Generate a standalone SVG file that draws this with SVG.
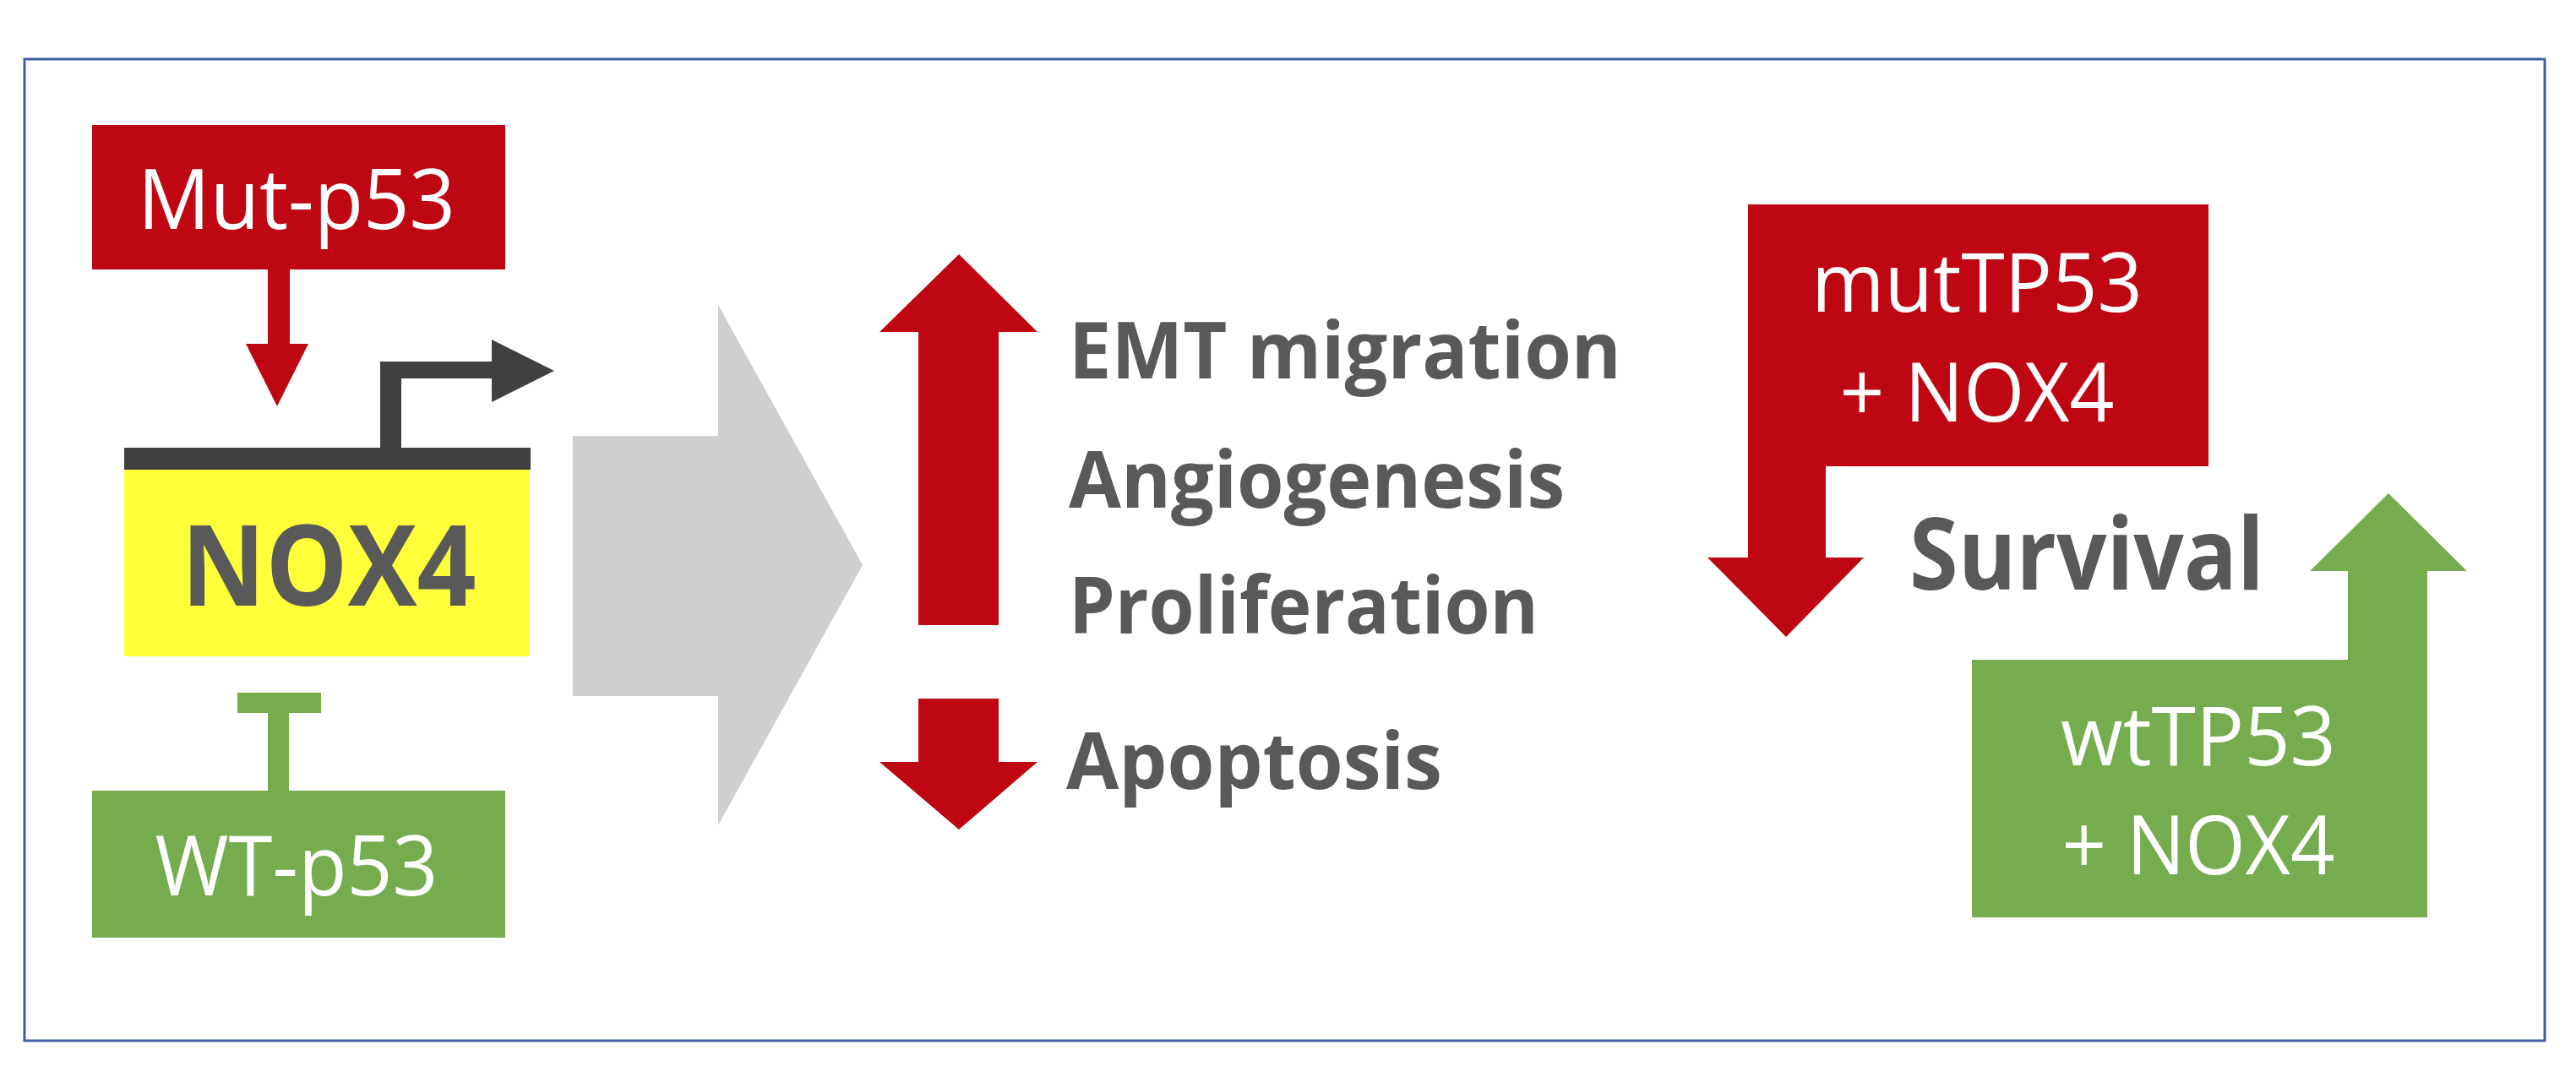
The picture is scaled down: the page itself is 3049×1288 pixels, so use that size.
<svg xmlns="http://www.w3.org/2000/svg" width="3049" height="1288" viewBox="0 0 3049 1288">
<style>
.red{fill:#BE0712}.green{fill:#74AC4E}.dark{fill:#404040}
.w{fill:#fff;font-family:"Open Sans","Liberation Sans",sans-serif}
.g{fill:#595959;font-family:"Open Sans","Liberation Sans",sans-serif;font-weight:bold}
</style>
<rect width="3049" height="1288" fill="#fff"/>
<rect x="29" y="70" width="2983" height="1162" fill="none" stroke="#3F5FA0" stroke-width="3"/>
<g id="connectors">
<polygon class="red" points="317,319 343,319 343,407 365,407 328,481 291,407 317,407"/>
<path class="dark" d="M147,530 H450 V428 H582 V402 L656,439 L582,476 V448 H475 V530 H628 V556 H147 Z"/>
<path class="green" d="M281,820 H380 V844 H342 V936 H317 V844 H281 Z"/>
<polygon fill="#D0CECF" points="678,516 850,516 850,361 1021,669 850,977 850,824 678,824"/>
<polygon class="red" points="1087,740 1182,740 1182,393 1228,393 1135,301 1041,393 1087,393"/>
<polygon class="red" points="1087,827 1182,827 1182,902 1228,902 1135,982 1041,902 1087,902"/>
</g>
<g id="mut-p53"><rect class="red" x="109" y="148" width="489" height="171"/>
<text class="w" x="351" y="271" font-size="98" text-anchor="middle" textLength="376" lengthAdjust="spacingAndGlyphs">Mut-p53</text></g>
<g id="nox4"><rect fill="#FFFF3A" x="147" y="556" width="479" height="221"/>
<text class="g" x="389" y="717" font-size="133" text-anchor="middle" textLength="349" lengthAdjust="spacingAndGlyphs">NOX4</text></g>
<g id="wt-p53"><rect class="green" x="109" y="936" width="489" height="174"/>
<text class="w" x="351" y="1060" font-size="98" text-anchor="middle" textLength="335" lengthAdjust="spacingAndGlyphs">WT-p53</text></g>
<g id="effects">
<text class="g" x="1265" y="448" font-size="94" textLength="654" lengthAdjust="spacingAndGlyphs">EMT migration</text>
<text class="g" x="1265" y="601" font-size="94" textLength="587" lengthAdjust="spacingAndGlyphs">Angiogenesis</text>
<text class="g" x="1265" y="750" font-size="94" textLength="556" lengthAdjust="spacingAndGlyphs">Proliferation</text>
<text class="g" x="1262" y="934" font-size="94" textLength="445" lengthAdjust="spacingAndGlyphs">Apoptosis</text>
</g>
<g id="mutTP53">
<polygon class="red" points="2069,242 2614,242 2614,552 2161,552 2161,660 2206,660 2114,754 2021,660 2069,660"/>
<text class="w" x="2340" y="369" font-size="97" text-anchor="middle" textLength="392" lengthAdjust="spacingAndGlyphs">mutTP53</text>
<text class="w" x="2340" y="499" font-size="97" text-anchor="middle" textLength="325" lengthAdjust="spacingAndGlyphs">+ NOX4</text>
</g>
<g id="survival"><text class="g" x="2260" y="698" font-size="118" textLength="420" lengthAdjust="spacingAndGlyphs">Survival</text></g>
<g id="wtTP53">
<polygon class="green" points="2334,781 2779,781 2779,676 2734,676 2827,584 2920,676 2873,676 2873,1086 2334,1086"/>
<text class="w" x="2602" y="906" font-size="97" text-anchor="middle" textLength="326" lengthAdjust="spacingAndGlyphs">wtTP53</text>
<text class="w" x="2602" y="1035" font-size="97" text-anchor="middle" textLength="323" lengthAdjust="spacingAndGlyphs">+ NOX4</text>
</g>
</svg>
